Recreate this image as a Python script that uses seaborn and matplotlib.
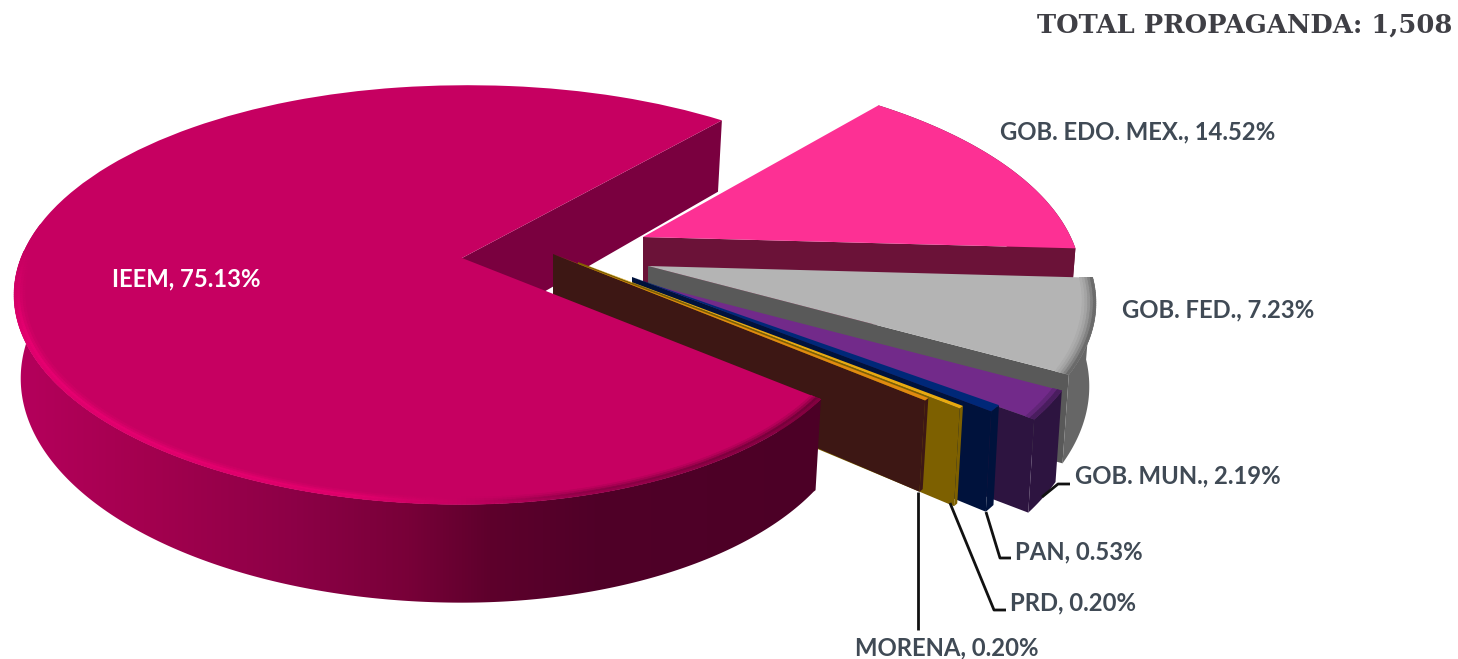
import numpy as np
import matplotlib
matplotlib.use("Agg")
import matplotlib.pyplot as plt
import matplotlib.transforms as mtransforms
from matplotlib.collections import PolyCollection
from matplotlib.colors import LinearSegmentedColormap, to_rgb
from matplotlib.patches import Polygon
import seaborn as sns

# values, counter-clockwise from the IEEM slice
slices = ["IEEM", "MORENA", "PRD", "PAN", "GOB. MUN.", "GOB. FED.", "GOB. EDO. MEX."]
shares = [75.13, 0.20, 0.20, 0.53, 2.19, 7.23, 14.52]
title_text = "TOTAL PROPAGANDA: 1,508"

top_colors = ["#c60061", "#e08a10", "#e8aa10", "#002878", "#722a8a", "#b4b4b4", "#fd3094"]
cut_colors = ["#7a003f", "#3d1714", "#7d6000", "#00123c", "#2d1440", "#595959", "#6b1238"]
rim_colors = [None, "#3d1714", "#7d6000", "#00123c", "#2d1440", "#666666", "#6b1238"]
label_color = "#404a55"

# where each slice's tip lands on the canvas (exploded by hand, like the original)
apex = {
    "IEEM": (462, 258),
    "MORENA": (553, 254),
    "PRD": (578, 262),
    "PAN": (632, 277),
    "GOB. MUN.": (641, 282),
    "GOB. FED.": (648, 266),
    "GOB. EDO. MEX.": (643, 237),
}
reach = {"IEEM": 1.0, "MORENA": 0.985, "PRD": 1.0, "PAN": 0.94, "GOB. MUN.": 1.0,
         "GOB. FED.": 1.0, "GOB. EDO. MEX.": 0.97}
deep = {"IEEM": 1.0, "MORENA": 1.0, "PRD": 1.07, "PAN": 1.11, "GOB. MUN.": 1.03,
        "GOB. FED.": 1.0, "GOB. EDO. MEX.": 1.0}
shear = {"GOB. EDO. MEX.": 0.1}

SX, SY, PERSP, DEPTH = 441, 203, 0.176, 81
START = 49


def place(u, v, name, drop=0.0):
    u, v = np.asarray(u, dtype=float), np.asarray(v, dtype=float)
    scale = reach[name]
    if name == "IEEM":
        # the big slice pulls in towards its front-right corner, out at the back one
        t = np.degrees(np.arctan2(v, u)) % 360
        scale = 1 - 0.046 * np.clip((t - 270) / 49, 0, 1) ** 2
        scale = scale + 0.02 * np.clip((90 - t) / 41, 0, 1)
    u, v = u * scale, v * scale
    w = 1 + PERSP * v
    x = u * SX / w
    y = -v * SY / w
    x = x + shear.get(name, 0.0) * y
    if drop:
        x = x * 0.985
        y = y + drop * deep[name] * DEPTH / w
    return apex[name][0] + x, apex[name][1] + y


class Tilt(mtransforms.Transform):
    input_dims = 2
    output_dims = 2
    is_separable = False

    def __init__(self, name):
        super().__init__()
        self.name = name

    def transform_non_affine(self, values):
        x, y = place(values[:, 0], values[:, 1], self.name)
        return np.column_stack([x, y])


def cut_face(theta, name):
    u, v = np.cos(np.radians(theta)), np.sin(np.radians(theta))
    x0, y0 = place(u, v, name)
    x1, y1 = place(u, v, name, drop=1)
    xa, ya = place(0.0, 0.0, name)
    xb, yb = place(0.0, 0.0, name, drop=1)
    return [(xa, ya), (x0, y0), (x1, y1), (xb, yb)]


def arc(t0, t1):
    t = np.clip(np.arange(t0, t1 + 0.5, 0.5), t0, t1)
    return t, np.cos(np.radians(t)), np.sin(np.radians(t))


def wall(t0, t1, name):
    t, u, v = arc(t0, t1)
    xa, ya = place(u, v, name)
    xb, yb = place(u, v, name, drop=1)
    return np.r_[xa, xb[::-1]], np.r_[ya, yb[::-1]]


def ring(t0, t1, name, r0, r1):
    # strips across the rounded outer edge of a slice's top
    t, u, v = arc(t0, t1)
    xa, ya = place(u * r1, v * r1, name)
    xb, yb = place(u * r0, v * r0, name)
    quads = [[(xa[i], ya[i]), (xa[i + 1], ya[i + 1]), (xb[i + 1], yb[i + 1]), (xb[i], yb[i])]
             for i in range(len(t) - 1)]
    return quads, (xa[:-1] + xa[1:]) / 2, t[:-1]


sns.set_theme(style="white")
plt.rcParams["font.family"] = ["Lato", "DejaVu Sans"]
palette = sns.color_palette(top_colors)

fig, ax = plt.subplots(figsize=(14.58, 6.59), dpi=100)
wedges, _ = ax.pie(shares, colors=palette, startangle=START, counterclock=True, radius=1,
                   wedgeprops={"linewidth": 0})
ax.set_aspect("auto")
ax.set_axis_off()
fig.subplots_adjust(left=0, right=1, top=1, bottom=0)

ieem_wall = LinearSegmentedColormap.from_list(
    "ieem_wall", [(0.0, "#b5005c"), (0.16, "#a4004f"), (0.35, "#8c0046"), (0.49, "#780038"),
                  (0.59, "#5e002c"), (0.72, "#500028"), (1.0, "#4c0026")])
ieem_lip = LinearSegmentedColormap.from_list(
    "ieem_lip", [(0.0, "#ea0072"), (0.42, "#e6006e"), (0.55, "#c60061"), (0.7, "#8a0045"),
                 (1.0, "#6a0034")])


def add_strips(quads, colors, z):
    ax.add_collection(PolyCollection(quads, facecolors=colors, edgecolors=colors,
                                     linewidths=0.4, zorder=z))


def add_lip(i, target, z, rings):
    w = wedges[i]
    for r0, r1, k in rings:
        quads, _, _ = ring(w.theta1, w.theta2, slices[i], r0, r1)
        c = np.array(to_rgb(top_colors[i])) * (1 - k) + np.array(to_rgb(target)) * k
        add_strips(quads, [tuple(c)] * len(quads), z)


z = 1
# back to front: IEEM's inner cut first, then the exploded slices, then IEEM's body
ax.fill(*zip(*cut_face(wedges[0].theta1, "IEEM")), color=cut_colors[0], lw=0, zorder=z)

for i in [6, 5, 4, 3, 2, 1]:
    name, wedge = slices[i], wedges[i]
    z += 1
    ax.fill(*zip(*cut_face(wedge.theta1, name)), color=cut_colors[i], lw=0, zorder=z)
    wx, wy = wall(wedge.theta1, wedge.theta2, name)
    ax.fill(wx, wy, color=rim_colors[i], lw=0, zorder=z)
    wedge.set_transform(Tilt(name) + ax.transData)
    wedge.set_zorder(z + 0.5)
    z += 1
    if name == "GOB. FED.":
        add_lip(i, "#626262", z, [(0.97, 0.976, 0.08), (0.976, 0.982, 0.2), (0.982, 0.988, 0.38),
                                  (0.988, 0.994, 0.62), (0.994, 1.0, 0.9)])
    elif name == "GOB. MUN.":
        add_lip(i, "#2d1440", z, [(0.98, 0.99, 0.25), (0.99, 1.0, 0.6)])

# IEEM's outer wall with its left-to-right shading
z += 1
wall_from = 170
wx, wy = wall(wall_from, wedges[0].theta2, "IEEM")
im = ax.imshow(np.linspace(0, 1, 512)[None, :], cmap=ieem_wall, aspect="auto", zorder=z,
               extent=(wx.min(), wx.max(), wy.max(), wy.min()))
im.set_clip_path(Polygon(np.column_stack([wx, wy]), transform=ax.transData))
wedges[0].set_transform(Tilt("IEEM") + ax.transData)
wedges[0].set_zorder(z + 1)
for r0, r1, k in [(0.976, 0.982, 0.2), (0.982, 0.988, 0.5), (0.988, 0.994, 0.9), (0.994, 1.0, 0.75)]:
    quads, xs, ts = ring(178, wedges[0].theta2, "IEEM", r0, r1)
    pos = (xs - wx.min()) / (wx.max() - wx.min())
    fade = (k * np.clip((ts - 178) / 22, 0, 1))[:, None]
    cols = np.array(to_rgb(top_colors[0])) * (1 - fade) + ieem_lip(pos)[:, :3] * fade
    add_strips(quads, cols, z + 2)

ax.set_xlim(0, 1458)
ax.set_ylim(659, 0)

# data labels
label_z = z + 5
pct = [f"{s}, {v:.2f}%" for s, v in zip(slices, shares)]
fs = 17.2
ax.text(112, 279, pct[0], color="white", fontsize=fs, fontweight="bold", va="center", zorder=label_z)
ax.text(1000, 132, pct[6], color=label_color, fontsize=fs, fontweight="bold", va="center", zorder=label_z)
ax.text(1122, 310, pct[5], color=label_color, fontsize=fs, fontweight="bold", va="center", zorder=label_z)
ax.text(1075, 476, pct[4], color=label_color, fontsize=fs, fontweight="bold", va="center", zorder=label_z)
ax.text(1015, 552, pct[3], color=label_color, fontsize=fs, fontweight="bold", va="center", zorder=label_z)
ax.text(1010, 603, pct[2], color=label_color, fontsize=fs, fontweight="bold", va="center", zorder=label_z)
ax.text(855, 648, pct[1], color=label_color, fontsize=fs, fontweight="bold", va="center", zorder=label_z)

# leader lines
leaders = [
    ([1042, 1058, 1070], [497, 484, 484]),
    ([986, 1000, 1011], [512, 558, 558]),
    ([950, 994, 1006], [503, 610, 610]),
    ([918, 918], [492, 630]),
]
for xs_l, ys_l in leaders:
    ax.plot(xs_l, ys_l, color="#111111", lw=2.0, zorder=label_z - 1, solid_capstyle="butt")

ax.text(1452, 25, title_text, ha="right", va="center", fontsize=18.5, fontweight="bold",
        family=["DejaVu Serif"], color="#3f3f45", zorder=label_z)

fig.savefig("out.png", dpi=100)
